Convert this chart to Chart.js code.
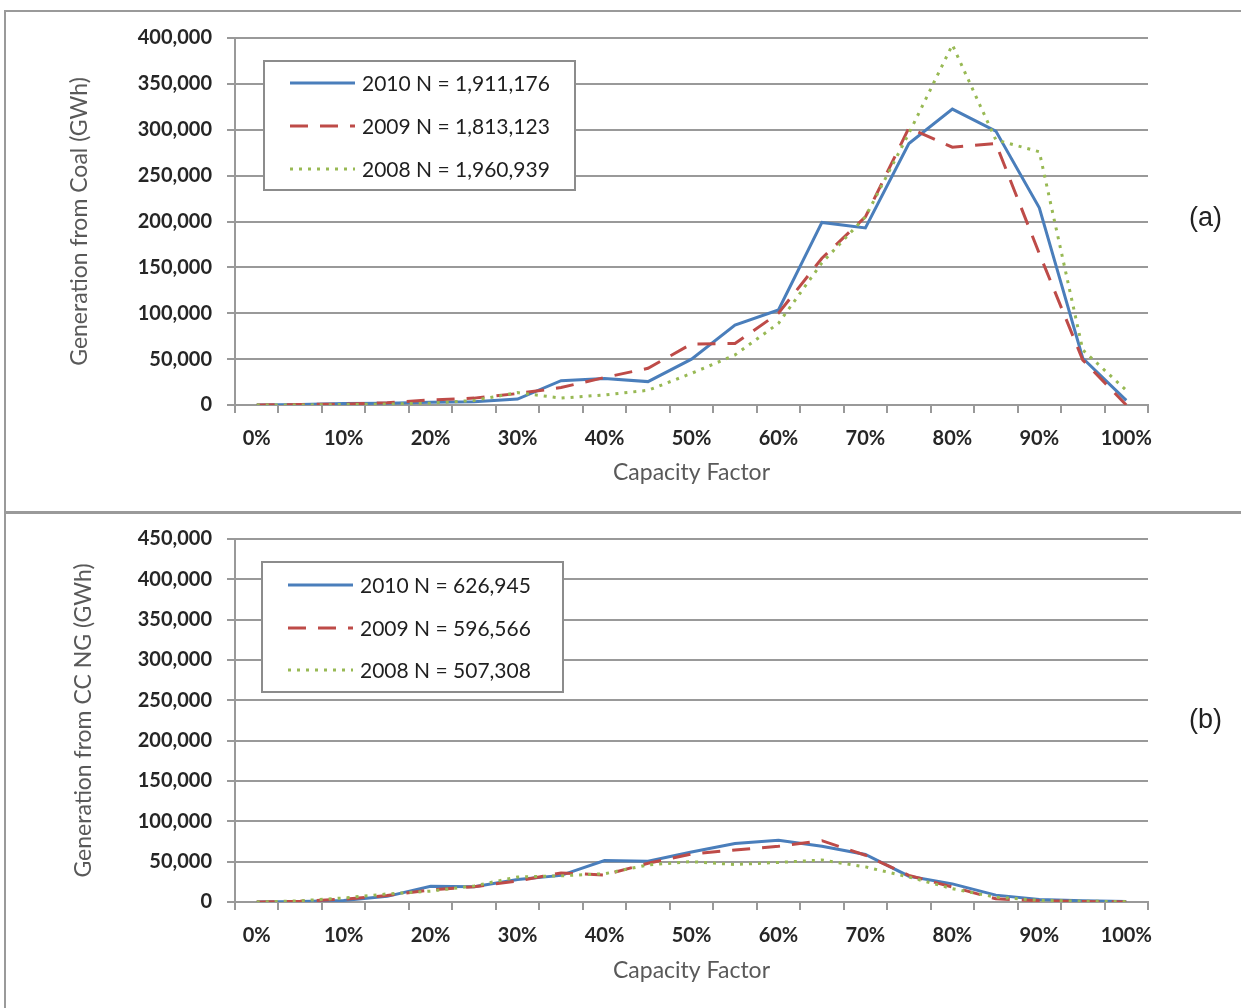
<!DOCTYPE html>
<html lang="en">
<head>
  <meta charset="UTF-8" />
  <title>Generation by Capacity Factor</title>
  <script src="https://cdn.jsdelivr.net/npm/chart.js"></script>
  <style>
    body { margin: 0; width: 1241px; height: 1008px; overflow: hidden; background: #fff; font-family: Lato, sans-serif; }
    .frame { position: absolute; border: 2px solid #9a9a9a; }
    #frameA { left: 4px; top: 10px; width: 1260px; height: 500px; }
    #frameB { left: 4px; top: 511px; width: 1260px; height: 520px; border-top-width: 3px; }
    canvas { position: absolute; left: 0; }
    #coalChart { top: 0; }
    #ccChart { top: 512px; }
    .tag { position: absolute; left: 1189px; font-family: "Liberation Sans", Arial, sans-serif; font-size: 27px; color: #222; }
  </style>
</head>
<body>
  <div class="frame" id="frameA"></div>
  <div class="frame" id="frameB"></div>
  <canvas id="coalChart" width="1241" height="510"></canvas>
  <canvas id="ccChart" width="1241" height="496"></canvas>
  <div class="tag" style="top: 202px;">(a)</div>
  <div class="tag" style="top: 704px;">(b)</div>

  <script>
    // capacity factor bins, 5% wide
    const capacityLabels = ["0%", "5%", "10%", "15%", "20%", "25%", "30%", "35%", "40%", "45%", "50%",
      "55%", "60%", "65%", "70%", "75%", "80%", "85%", "90%", "95%", "100%"];

    // (a) coal, GWh
    const coal2010 = [0, 500, 1500, 2000, 3000, 3600, 6500, 26500, 29000, 25500, 50000, 87000, 103500, 199000, 193000, 285000, 322500, 298500, 215000, 51000, 5000];
    const coal2009 = [0, 500, 1000, 2500, 5500, 7500, 12500, 19000, 30000, 40000, 66500, 67000, 100000, 160000, 205000, 302000, 281000, 285000, 165000, 49000, 0];
    const coal2008 = [0, 0, 500, 1000, 2000, 5000, 13500, 7500, 11000, 16000, 34500, 54500, 89000, 155000, 205000, 296000, 392500, 289000, 276000, 60000, 16000];
    const coalLegend = ["2010 N = 1,911,176", "2009 N = 1,813,123", "2008 N = 1,960,939"];

    // (b) combined cycle natural gas, GWh
    const cc2010 = [0, 500, 2000, 7000, 19500, 19000, 28000, 33000, 51500, 50500, 62000, 72500, 76500, 69000, 59000, 32000, 22500, 8500, 3000, 1500, 500];
    const cc2009 = [0, 1000, 3500, 8000, 15000, 19000, 26000, 36000, 33500, 48000, 59500, 64500, 69000, 76000, 58000, 33000, 18500, 4000, 1500, 500, 0];
    const cc2008 = [0, 1500, 5000, 10000, 13500, 20000, 31000, 32500, 35000, 46000, 50000, 46500, 49000, 52000, 43500, 31000, 16500, 6000, 2000, 1000, 500];
    const ccLegend = ["2010 N = 626,945", "2009 N = 596,566", "2008 N = 507,308"];

    const styles = [
      { color: "#4a7ebb", dash: [] },
      { color: "#be4b48", dash: [18, 12] },
      { color: "#98b954", dash: [3, 6] }
    ];

    // legend drawn as a framed box inside the plot, like the Excel original
    const boxLegend = {
      id: "boxLegend",
      afterDatasetsDraw(chart, args, opts) {
        const ctx = chart.ctx;
        ctx.save();
        ctx.fillStyle = "#fff";
        ctx.fillRect(opts.x, opts.y, opts.w, opts.h);
        ctx.strokeStyle = "#8c8c8c";
        ctx.lineWidth = 2;
        ctx.strokeRect(opts.x, opts.y, opts.w, opts.h);
        chart.data.datasets.forEach((ds, i) => {
          const y = opts.y + opts.rows[i];
          ctx.beginPath();
          ctx.setLineDash(ds.borderDash);
          ctx.strokeStyle = ds.borderColor;
          ctx.lineWidth = ds.borderWidth;
          ctx.moveTo(opts.x + 26, y);
          ctx.lineTo(opts.x + 91, y);
          ctx.stroke();
          ctx.setLineDash([]);
          ctx.fillStyle = "#1f1f1f";
          ctx.font = "21px Lato";
          ctx.textBaseline = "middle";
          ctx.fillText(ds.label, opts.x + 98, y + 1);
        });
        ctx.restore();
      }
    };

    function makeChart(id, series, legendLabels, yMax, yTitle, pad, legendBox) {
      const datasets = series.map((data, i) => ({
        label: legendLabels[i],
        data: data,
        borderColor: styles[i].color,
        borderDash: styles[i].dash,
        borderWidth: 3,
        pointRadius: 0,
        tension: 0,
        fill: false
      }));
      return new Chart(document.getElementById(id), {
        type: "line",
        data: { labels: capacityLabels, datasets: datasets.reverse() },
        plugins: [boxLegend],
        options: {
          responsive: false,
          animation: false,
          layout: { padding: { left: 0, right: 93, top: pad.top, bottom: 0 } },
          plugins: {
            legend: { display: false },
            tooltip: { enabled: false },
            boxLegend: legendBox
          },
          scales: {
            x: {
              type: "category",
              offset: true,
              afterFit: (s) => { s.height = pad.xHeight; },
              grid: { offset: true, drawOnChartArea: false, tickLength: 8, color: "#999", lineWidth: 2 },
              border: { color: "#999", width: 2 },
              ticks: {
                autoSkip: false, maxRotation: 0, padding: 14,
                color: "#262626", font: { family: "Lato", size: 20, weight: "bold" },
                callback: (v, i) => (i % 2 === 0 ? capacityLabels[i] : "")
              },
              title: {
                display: true, text: "Capacity Factor", color: "#595959",
                font: { family: "Lato", size: 23 }, padding: { top: 0, bottom: pad.titleBottom }
              }
            },
            y: {
              min: 0, max: yMax,
              afterFit: (s) => { s.width = 235; },
              grid: { color: "#999", lineWidth: 2, tickLength: 8 },
              border: { color: "#999", width: 2 },
              ticks: {
                stepSize: 50000, padding: 15,
                color: "#262626", font: { family: "Lato", size: 20, weight: "bold" },
                callback: (v) => v.toLocaleString("en-US")
              },
              title: {
                display: true, text: yTitle, color: "#595959",
                font: { family: "Lato", size: 23 }, padding: { top: pad.yTitleLeft, bottom: 0 }
              }
            }
          }
        }
      });
    }

    // datasets are reversed so 2010 is drawn on top; legend rows follow dataset order
    makeChart("coalChart", [coal2010, coal2009, coal2008], coalLegend, 400000,
      "Generation from Coal (GWh)",
      { top: 38, xHeight: 105, titleBottom: 24, yTitleLeft: 66 },
      { x: 264, y: 61, w: 311, h: 129, rows: [108, 65, 22] });

    makeChart("ccChart", [cc2010, cc2009, cc2008], ccLegend, 450000,
      "Generation from CC NG (GWh)",
      { top: 27, xHeight: 106, titleBottom: 24, yTitleLeft: 70 },
      { x: 262, y: 50, w: 301, h: 130, rows: [108, 66, 23] });
  </script>
</body>
</html>
